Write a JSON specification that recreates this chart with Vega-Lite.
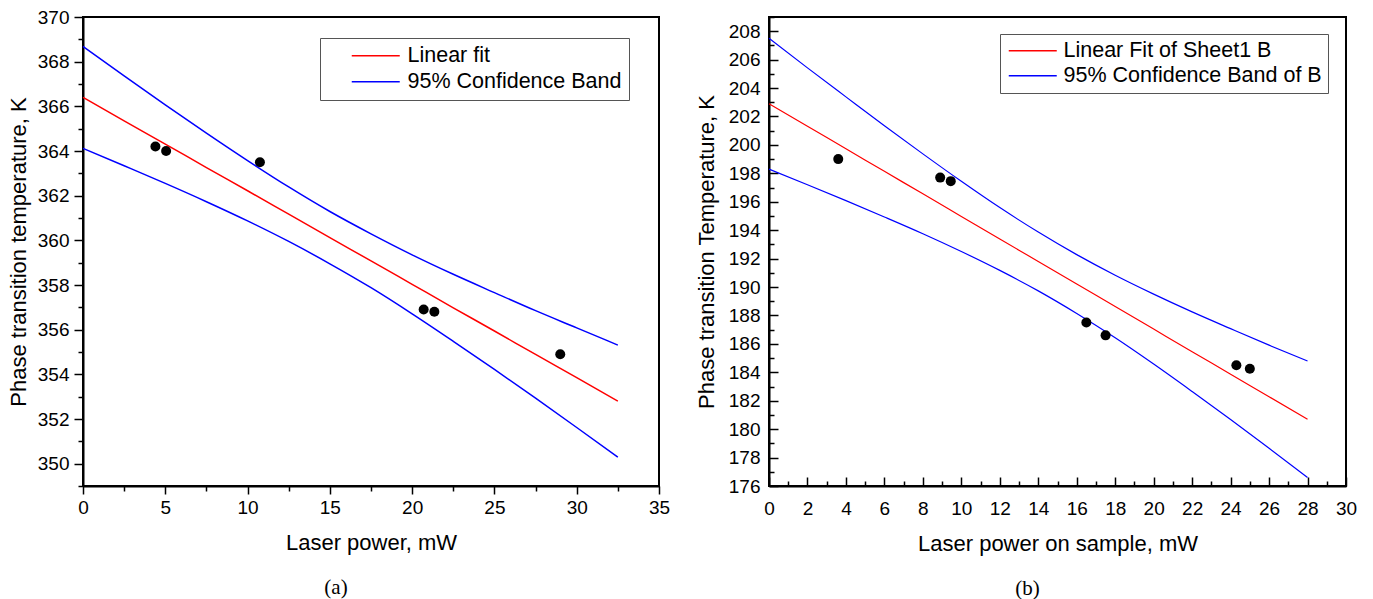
{
  "$schema": "https://vega.github.io/schema/vega-lite/v6.json",
  "background": "white",
  "padding": {"left": 6, "top": 7, "right": 5, "bottom": 2},
  "spacing": 23,
  "config": {
    "font": "Liberation Sans",
    "view": {"stroke": "black", "strokeWidth": 2},
    "axis": {
      "domainColor": "black", "domainWidth": 2,
      "tickColor": "black", "tickWidth": 1.5,
      "labelFont": "Liberation Sans", "labelFontSize": 19, "labelColor": "black",
      "titleFont": "Liberation Sans", "titleFontSize": 22, "titleFontWeight": "normal", "titleColor": "black",
      "grid": false, "labelOverlap": false, "labelFlush": false
    },
    "title": {"font": "Liberation Serif", "fontSize": 21, "fontWeight": "normal", "orient": "bottom", "color": "black", "offset": 24}
  },
  "resolve": {"scale": {"color": "independent"}, "legend": {"color": "independent"}},
  "datasets": {
    "linesA": [
      {"x": 0, "y": 366.40, "curve": "fit", "series": "Linear fit"},
      {"x": 2.5, "y": 365.35, "curve": "fit", "series": "Linear fit"},
      {"x": 5, "y": 364.31, "curve": "fit", "series": "Linear fit"},
      {"x": 7.5, "y": 363.26, "curve": "fit", "series": "Linear fit"},
      {"x": 10, "y": 362.22, "curve": "fit", "series": "Linear fit"},
      {"x": 12.5, "y": 361.17, "curve": "fit", "series": "Linear fit"},
      {"x": 15, "y": 360.12, "curve": "fit", "series": "Linear fit"},
      {"x": 17.5, "y": 359.08, "curve": "fit", "series": "Linear fit"},
      {"x": 20, "y": 358.03, "curve": "fit", "series": "Linear fit"},
      {"x": 22.5, "y": 356.98, "curve": "fit", "series": "Linear fit"},
      {"x": 25, "y": 355.94, "curve": "fit", "series": "Linear fit"},
      {"x": 27.5, "y": 354.89, "curve": "fit", "series": "Linear fit"},
      {"x": 30, "y": 353.85, "curve": "fit", "series": "Linear fit"},
      {"x": 32.5, "y": 352.80, "curve": "fit", "series": "Linear fit"},
      {"x": 0, "y": 368.68, "curve": "upper", "series": "95% Confidence Band"},
      {"x": 2.5, "y": 367.36, "curve": "upper", "series": "95% Confidence Band"},
      {"x": 5, "y": 366.07, "curve": "upper", "series": "95% Confidence Band"},
      {"x": 7.5, "y": 364.80, "curve": "upper", "series": "95% Confidence Band"},
      {"x": 10, "y": 363.57, "curve": "upper", "series": "95% Confidence Band"},
      {"x": 12.5, "y": 362.39, "curve": "upper", "series": "95% Confidence Band"},
      {"x": 15, "y": 361.29, "curve": "upper", "series": "95% Confidence Band"},
      {"x": 17.5, "y": 360.29, "curve": "upper", "series": "95% Confidence Band"},
      {"x": 20, "y": 359.35, "curve": "upper", "series": "95% Confidence Band"},
      {"x": 22.5, "y": 358.48, "curve": "upper", "series": "95% Confidence Band"},
      {"x": 25, "y": 357.66, "curve": "upper", "series": "95% Confidence Band"},
      {"x": 27.5, "y": 356.85, "curve": "upper", "series": "95% Confidence Band"},
      {"x": 30, "y": 356.08, "curve": "upper", "series": "95% Confidence Band"},
      {"x": 32.5, "y": 355.31, "curve": "upper", "series": "95% Confidence Band"},
      {"x": 0, "y": 364.12, "curve": "lower", "series": "95% Confidence Band"},
      {"x": 2.5, "y": 363.34, "curve": "lower", "series": "95% Confidence Band"},
      {"x": 5, "y": 362.55, "curve": "lower", "series": "95% Confidence Band"},
      {"x": 7.5, "y": 361.73, "curve": "lower", "series": "95% Confidence Band"},
      {"x": 10, "y": 360.87, "curve": "lower", "series": "95% Confidence Band"},
      {"x": 12.5, "y": 359.95, "curve": "lower", "series": "95% Confidence Band"},
      {"x": 15, "y": 358.95, "curve": "lower", "series": "95% Confidence Band"},
      {"x": 17.5, "y": 357.88, "curve": "lower", "series": "95% Confidence Band"},
      {"x": 20, "y": 356.71, "curve": "lower", "series": "95% Confidence Band"},
      {"x": 22.5, "y": 355.48, "curve": "lower", "series": "95% Confidence Band"},
      {"x": 25, "y": 354.22, "curve": "lower", "series": "95% Confidence Band"},
      {"x": 27.5, "y": 352.93, "curve": "lower", "series": "95% Confidence Band"},
      {"x": 30, "y": 351.62, "curve": "lower", "series": "95% Confidence Band"},
      {"x": 32.5, "y": 350.29, "curve": "lower", "series": "95% Confidence Band"}
    ],
    "pointsA": [
      {"x": 4.4, "y": 364.2},
      {"x": 5.05, "y": 364.0},
      {"x": 10.75, "y": 363.5},
      {"x": 20.7, "y": 356.9},
      {"x": 21.35, "y": 356.8},
      {"x": 29.0, "y": 354.9}
    ],
    "linesB": [
      {"x": 0, "y": 202.90, "curve": "fit", "series": "Linear Fit of Sheet1 B"},
      {"x": 2, "y": 201.31, "curve": "fit", "series": "Linear Fit of Sheet1 B"},
      {"x": 4, "y": 199.73, "curve": "fit", "series": "Linear Fit of Sheet1 B"},
      {"x": 6, "y": 198.14, "curve": "fit", "series": "Linear Fit of Sheet1 B"},
      {"x": 8, "y": 196.56, "curve": "fit", "series": "Linear Fit of Sheet1 B"},
      {"x": 10, "y": 194.97, "curve": "fit", "series": "Linear Fit of Sheet1 B"},
      {"x": 12, "y": 193.38, "curve": "fit", "series": "Linear Fit of Sheet1 B"},
      {"x": 14, "y": 191.80, "curve": "fit", "series": "Linear Fit of Sheet1 B"},
      {"x": 16, "y": 190.21, "curve": "fit", "series": "Linear Fit of Sheet1 B"},
      {"x": 18, "y": 188.63, "curve": "fit", "series": "Linear Fit of Sheet1 B"},
      {"x": 20, "y": 187.04, "curve": "fit", "series": "Linear Fit of Sheet1 B"},
      {"x": 22, "y": 185.45, "curve": "fit", "series": "Linear Fit of Sheet1 B"},
      {"x": 24, "y": 183.87, "curve": "fit", "series": "Linear Fit of Sheet1 B"},
      {"x": 26, "y": 182.28, "curve": "fit", "series": "Linear Fit of Sheet1 B"},
      {"x": 28, "y": 180.70, "curve": "fit", "series": "Linear Fit of Sheet1 B"},
      {"x": 0, "y": 207.50, "curve": "upper", "series": "95% Confidence Band of B"},
      {"x": 2, "y": 205.42, "curve": "upper", "series": "95% Confidence Band of B"},
      {"x": 4, "y": 203.38, "curve": "upper", "series": "95% Confidence Band of B"},
      {"x": 6, "y": 201.35, "curve": "upper", "series": "95% Confidence Band of B"},
      {"x": 8, "y": 199.37, "curve": "upper", "series": "95% Confidence Band of B"},
      {"x": 10, "y": 197.44, "curve": "upper", "series": "95% Confidence Band of B"},
      {"x": 12, "y": 195.59, "curve": "upper", "series": "95% Confidence Band of B"},
      {"x": 14, "y": 193.87, "curve": "upper", "series": "95% Confidence Band of B"},
      {"x": 16, "y": 192.28, "curve": "upper", "series": "95% Confidence Band of B"},
      {"x": 18, "y": 190.83, "curve": "upper", "series": "95% Confidence Band of B"},
      {"x": 20, "y": 189.50, "curve": "upper", "series": "95% Confidence Band of B"},
      {"x": 22, "y": 188.25, "curve": "upper", "series": "95% Confidence Band of B"},
      {"x": 24, "y": 187.07, "curve": "upper", "series": "95% Confidence Band of B"},
      {"x": 26, "y": 185.91, "curve": "upper", "series": "95% Confidence Band of B"},
      {"x": 28, "y": 184.80, "curve": "upper", "series": "95% Confidence Band of B"},
      {"x": 0, "y": 198.30, "curve": "lower", "series": "95% Confidence Band of B"},
      {"x": 2, "y": 197.20, "curve": "lower", "series": "95% Confidence Band of B"},
      {"x": 4, "y": 196.08, "curve": "lower", "series": "95% Confidence Band of B"},
      {"x": 6, "y": 194.93, "curve": "lower", "series": "95% Confidence Band of B"},
      {"x": 8, "y": 193.75, "curve": "lower", "series": "95% Confidence Band of B"},
      {"x": 10, "y": 192.50, "curve": "lower", "series": "95% Confidence Band of B"},
      {"x": 12, "y": 191.17, "curve": "lower", "series": "95% Confidence Band of B"},
      {"x": 14, "y": 189.73, "curve": "lower", "series": "95% Confidence Band of B"},
      {"x": 16, "y": 188.14, "curve": "lower", "series": "95% Confidence Band of B"},
      {"x": 18, "y": 186.43, "curve": "lower", "series": "95% Confidence Band of B"},
      {"x": 20, "y": 184.58, "curve": "lower", "series": "95% Confidence Band of B"},
      {"x": 22, "y": 182.65, "curve": "lower", "series": "95% Confidence Band of B"},
      {"x": 24, "y": 180.68, "curve": "lower", "series": "95% Confidence Band of B"},
      {"x": 26, "y": 178.65, "curve": "lower", "series": "95% Confidence Band of B"},
      {"x": 28, "y": 176.60, "curve": "lower", "series": "95% Confidence Band of B"}
    ],
    "pointsB": [
      {"x": 3.6, "y": 199.0},
      {"x": 8.9, "y": 197.7},
      {"x": 9.45, "y": 197.45},
      {"x": 16.5, "y": 187.5},
      {"x": 17.5, "y": 186.6},
      {"x": 24.3, "y": 184.5},
      {"x": 25.0, "y": 184.25}
    ]
  },
  "hconcat": [
    {
      "width": 576,
      "height": 469,
      "title": {"text": "(a)", "dx": -35},
      "resolve": {"axis": {"x": "independent", "y": "independent"}},
      "layer": [
        {
          "data": {"name": "linesA"},
          "mark": {"type": "line", "strokeWidth": 1.5, "interpolate": "monotone"},
          "encoding": {
            "x": {
              "field": "x", "type": "quantitative",
              "scale": {"domain": [0, 35], "nice": false, "zero": false},
              "axis": {
                "orient": "bottom",
                "title": "Laser power, mW", "titlePadding": 15,
                "values": [0, 5, 10, 15, 20, 25, 30, 35],
                "labelOverlap": false, "labelFontSize": 19, "labelFlush": false,
                "tickSize": 8, "labelPadding": 4
              }
            },
            "y": {
              "field": "y", "type": "quantitative",
              "scale": {"domain": [349, 370], "nice": false, "zero": false},
              "axis": {
                "orient": "left",
                "title": "Phase transition temperature, K", "titlePadding": 7,
                "values": [350, 352, 354, 356, 358, 360, 362, 364, 366, 368, 370],
                "labelOverlap": false, "labelFontSize": 19, "labelFlush": false,
                "tickSize": 9, "labelPadding": 5
              }
            },
            "color": {
              "field": "series", "type": "nominal",
              "scale": {"domain": ["Linear fit", "95% Confidence Band"], "range": ["#ff0000", "#0000ff"]},
              "legend": {
                "orient": "none", "legendX": 237, "legendY": 21, "title": null,
                "symbolType": "M-4,0H4", "symbolSize": 144, "symbolStrokeWidth": 1.5,
                "labelFont": "Liberation Sans", "labelFontSize": 21.5, "labelColor": "black",
                "symbolOffset": 38, "labelOffset": 21, "labelLimit": 0, "rowPadding": 3,
                "strokeColor": "#555555", "fillColor": "white", "padding": 7
              }
            },
            "detail": {"field": "curve"}
          }
        },
        {
          "data": {"name": "pointsA"},
          "mark": {"type": "point", "shape": "circle", "filled": true, "color": "black", "size": 100, "opacity": 1},
          "encoding": {
            "x": {
              "field": "x", "type": "quantitative",
              "axis": {"orient": "bottom", "title": null, "labels": false, "domain": false, "tickSize": 5,
                       "values": [2.5, 7.5, 12.5, 17.5, 22.5, 27.5, 32.5]}
            },
            "y": {
              "field": "y", "type": "quantitative",
              "axis": {"orient": "left", "title": null, "labels": false, "domain": false, "tickSize": 5,
                       "values": [349, 351, 353, 355, 357, 359, 361, 363, 365, 367, 369]}
            }
          }
        }
      ]
    },
    {
      "width": 577,
      "height": 469,
      "title": {"text": "(b)", "dx": -30},
      "resolve": {"axis": {"x": "independent", "y": "independent"}},
      "layer": [
        {
          "data": {"name": "linesB"},
          "mark": {"type": "line", "strokeWidth": 1.2, "interpolate": "monotone"},
          "encoding": {
            "x": {
              "field": "x", "type": "quantitative",
              "scale": {"domain": [0, 30], "nice": false, "zero": false},
              "axis": {
                "orient": "bottom",
                "title": "Laser power on sample, mW", "titlePadding": 15,
                "values": [0, 2, 4, 6, 8, 10, 12, 14, 16, 18, 20, 22, 24, 26, 28, 30],
                "labelOverlap": false, "labelFontSize": 19, "labelFlush": false,
                "tickSize": -9, "labelPadding": 22
              }
            },
            "y": {
              "field": "y", "type": "quantitative",
              "scale": {"domain": [176, 209], "nice": false, "zero": false},
              "axis": {
                "orient": "left",
                "title": "Phase transition Temperature, K", "titlePadding": 10,
                "values": [176, 178, 180, 182, 184, 186, 188, 190, 192, 194, 196, 198, 200, 202, 204, 206, 208],
                "labelOverlap": false, "labelFontSize": 19, "labelFlush": false,
                "tickSize": -9, "labelPadding": 18
              }
            },
            "color": {
              "field": "series", "type": "nominal",
              "scale": {"domain": ["Linear Fit of Sheet1 B", "95% Confidence Band of B"], "range": ["#ff0000", "#0000ff"]},
              "legend": {
                "orient": "none", "legendX": 231, "legendY": 17, "title": null,
                "symbolType": "M-4,0H4", "symbolSize": 144, "symbolStrokeWidth": 1.5,
                "labelFont": "Liberation Sans", "labelFontSize": 21.5, "labelColor": "black",
                "symbolOffset": 16, "labelOffset": 20, "labelLimit": 0, "rowPadding": 2,
                "strokeColor": "#555555", "fillColor": "white", "padding": 6
              }
            },
            "detail": {"field": "curve"}
          }
        },
        {
          "data": {"name": "pointsB"},
          "mark": {"type": "point", "shape": "circle", "filled": true, "color": "black", "size": 100, "opacity": 1},
          "encoding": {
            "x": {
              "field": "x", "type": "quantitative",
              "axis": {"orient": "bottom", "title": null, "labels": false, "domain": false, "tickSize": -5,
                       "values": [1, 3, 5, 7, 9, 11, 13, 15, 17, 19, 21, 23, 25, 27, 29]}
            },
            "y": {
              "field": "y", "type": "quantitative",
              "axis": {"orient": "left", "title": null, "labels": false, "domain": false, "tickSize": -5,
                       "values": [177, 179, 181, 183, 185, 187, 189, 191, 193, 195, 197, 199, 201, 203, 205, 207, 209]}
            }
          }
        }
      ]
    }
  ]
}
